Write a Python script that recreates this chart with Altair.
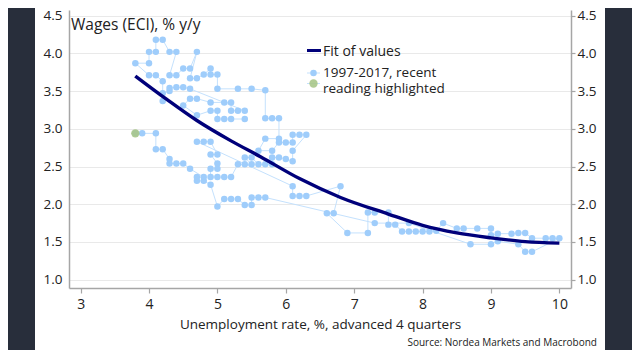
import altair as alt
import pandas as pd

# ---- data ----
unemp = [5.4, 5.2, 5.1, 5.0, 5.0, 4.9, 4.7, 4.5, 4.6, 4.7, 4.9, 5.1, 5.2, 5.2, 5.3, 5.4,
         4.6, 4.5, 4.4, 4.3, 4.3, 4.2, 4.2, 4.2, 4.1, 4.0, 3.8, 4.0, 4.0, 4.1, 4.1, 4.2,
         4.3, 4.4, 4.3, 4.4, 4.5, 4.6, 4.7, 4.6, 4.7, 4.8, 4.9, 4.9, 5.0, 5.0, 5.3, 5.5,
         5.7, 5.7, 5.8, 5.9, 5.9, 5.7, 5.6, 5.8, 5.9, 6.0, 6.1, 6.1, 6.2, 6.3, 6.1, 6.1,
         6.0, 5.9, 5.8, 5.8, 5.7, 5.6, 5.5, 5.4, 5.5, 5.4, 5.3, 5.2, 5.1, 5.0, 4.9, 4.9,
         5.0, 5.0, 4.9, 5.0, 4.9, 4.8, 4.7,
         6.1, 6.1, 6.2, 6.3, 6.8, 6.7, 6.6, 6.9, 7.2, 7.2, 7.3, 7.5, 7.5, 7.6, 7.7, 7.8,
         7.9, 8.0, 8.1, 8.2, 8.3, 8.5, 8.6, 8.8, 9.0, 9.0, 9.1, 9.3, 9.4, 9.5, 9.6, 9.8,
         9.9, 10.0, 9.6, 9.5, 9.4, 9.1, 9.0, 8.7, 7.8, 7.3,
         5.7, 5.6, 5.5, 5.5, 5.4, 5.3, 5.2, 5.1, 5.0, 4.9, 4.8, 4.7, 4.7, 4.8, 4.6, 4.5,
         4.4, 4.3, 4.3, 4.2, 4.1, 4.1, 3.9, 3.8]
wages = [3.13, 3.13, 3.13, 3.13, 3.24, 3.24, 3.18, 3.31, 3.40, 3.40, 3.35, 3.35, 3.35, 3.24, 3.24, 3.24,
         3.53, 3.55, 3.55, 3.54, 3.50, 3.47, 3.37, 3.63, 3.71, 3.71, 3.87, 3.87, 4.02, 4.02, 4.18, 4.18,
         4.02, 4.02, 3.71, 3.71, 3.80, 3.80, 4.02, 3.67, 3.67, 3.72, 3.80, 3.72, 3.72, 3.53, 3.53, 3.53,
         3.51, 3.14, 3.14, 3.14, 2.87, 2.87, 2.71, 2.71, 2.82, 2.82, 2.82, 2.92, 2.92, 2.92, 2.71, 2.57,
         2.60, 2.62, 2.62, 2.53, 2.53, 2.53, 2.62, 2.62, 2.53, 2.53, 2.53, 2.36, 2.36, 2.36, 2.36, 2.47,
         2.47, 2.54, 2.66, 2.66, 2.83, 2.83, 2.83,
         2.24, 2.11, 2.11, 2.11, 2.24, 1.88, 1.88, 1.62, 1.62, 1.89, 1.89, 1.89, 1.73, 1.73, 1.64, 1.64,
         1.64, 1.64, 1.64, 1.65, 1.75, 1.68, 1.68, 1.68, 1.68, 1.59, 1.61, 1.61, 1.62, 1.62, 1.55, 1.55,
         1.55, 1.55, 1.37, 1.37, 1.47, 1.51, 1.47, 1.47, 1.75, 1.75,
         2.09, 2.09, 2.09, 1.99, 1.99, 2.07, 2.07, 2.07, 1.97, 2.26, 2.31, 2.31, 2.36, 2.36, 2.47, 2.54,
         2.54, 2.54, 2.60, 2.73, 2.73, 2.94, 2.94, 2.94]

fit_x = [3.8, 4.26, 4.7, 5.2, 5.63, 6.2, 6.8, 7.5, 8.0, 8.5, 9.0, 9.5, 10.0]
fit_y = [3.70, 3.39, 3.11, 2.84, 2.63, 2.34, 2.09, 1.87, 1.72, 1.62, 1.555, 1.505, 1.485]

y_ticks = [1.0, 1.5, 2.0, 2.5, 3.0, 3.5, 4.0, 4.5]
x_ticks = [3, 4, 5, 6, 7, 8, 9, 10]

title_text = "Wages (ECI), % y/y"
x_title = "Unemployment rate, %, advanced 4 quarters"
legend_fit = "Fit of values"
legend_pts = ["1997-2017, recent", "reading highlighted"]
source_text = "Source: Nordea Markets and Macrobond"

# ---- styling ----
FONT = "Open Sans"
TXT = "#222222"
PT = "#9fcdfb"
PT_LINE = "#c4e1fd"
NAVY = "#00007a"
GREEN = "#a9c68a"
DARK = "#282e3b"

df = pd.DataFrame({"u": unemp, "w": wages, "order": list(range(len(unemp)))})
recent = df.tail(1)
fit = pd.DataFrame({"u": fit_x, "w": fit_y})
one = pd.DataFrame({"a": [0]})

xs = alt.Scale(domain=[2.83, 10.17], nice=False, zero=False)
ys = alt.Scale(domain=[0.89, 4.575], nice=False, zero=False)

X = alt.X("u:Q", scale=xs,
          axis=alt.Axis(values=x_ticks, title=x_title, grid=False, tickSize=5,
                        labelPadding=4, titlePadding=6, format="d", titleFontSize=13.5))
Y_left = alt.Y("w:Q", scale=ys,
               axis=alt.Axis(values=y_ticks, title=None, format=".1f", grid=True,
                             ticks=False, labelPadding=7, orient="left", labelFontSize=13.5))
Y_right = alt.Y("w:Q", scale=ys,
                axis=alt.Axis(values=y_ticks, title=None, format=".1f", grid=False,
                              tickSize=4, labelPadding=2, orient="right", labelFontSize=13.5))
Y_none = alt.Y("w:Q", scale=ys, axis=None)

side_l = alt.Chart(one).mark_rect(color=DARK).encode(
    x=alt.value(-70), x2=alt.value(-34), y=alt.value(-12), y2=alt.value(360))
side_r = alt.Chart(one).mark_rect(color=DARK).encode(
    x=alt.value(536), x2=alt.value(580), y=alt.value(-12), y2=alt.value(360))

path = alt.Chart(df).mark_line(color=PT_LINE, strokeWidth=1).encode(
    x=X, y=Y_left, order="order:Q")
pts = alt.Chart(df).mark_circle(color=PT, opacity=1, size=42).encode(
    x=alt.X("u:Q", scale=xs), y=Y_none)
fitline = alt.Chart(fit).mark_line(color=NAVY, strokeWidth=3.4, interpolate="monotone").encode(
    x=alt.X("u:Q", scale=xs), y=Y_right)
hl = alt.Chart(recent).mark_circle(color=GREEN, opacity=0.9, size=70).encode(
    x=alt.X("u:Q", scale=xs), y=Y_none)

def txt(s, x, y, size=14, align="left", color=TXT):
    return alt.Chart(one).mark_text(text=s, align=align, baseline="alphabetic",
                                    fontSize=size, font=FONT, color=color).encode(
        x=alt.value(x), y=alt.value(y))

title = txt(title_text, 2, 20, size=15.5)
leg_fit_line = alt.Chart(one).mark_rule(color=NAVY, strokeWidth=3).encode(
    x=alt.value(238), x2=alt.value(252), y=alt.value(40.5))
leg_pt_line1 = alt.Chart(one).mark_rule(color=PT_LINE, strokeWidth=1).encode(
    x=alt.value(238), x2=alt.value(251), y=alt.value(63))
leg_pt1 = alt.Chart(one).mark_circle(color=PT, opacity=1, size=42).encode(
    x=alt.value(244.5), y=alt.value(63))
leg_pt_line2 = alt.Chart(one).mark_rule(color=PT_LINE, strokeWidth=1).encode(
    x=alt.value(238), x2=alt.value(251), y=alt.value(73.5))
leg_pt2 = alt.Chart(one).mark_circle(color=GREEN, opacity=0.9, size=70).encode(
    x=alt.value(244.5), y=alt.value(73.5))
leg_t1 = txt(legend_fit, 254, 45.5)
leg_t2 = txt(legend_pts[0], 254, 66.5, size=13.5)
leg_t3 = txt(legend_pts[1], 254, 83, size=13.5)
src = txt(source_text, 528, 336, size=10, align="right")

chart = alt.layer(
    side_l, side_r, path, pts, fitline, hl, title,
    leg_fit_line, leg_pt_line1, leg_pt1, leg_pt_line2, leg_pt2,
    leg_t1, leg_t2, leg_t3, src
).resolve_axis(y="independent").properties(
    width=502, height=278,
    autosize=alt.AutoSizeParams(type="none"),
    padding={"left": 61, "top": 2, "right": 61, "bottom": 62},
    background="white",
).configure_view(stroke=None).configure_axis(
    labelFont=FONT, titleFont=FONT, labelFontSize=14, titleFontSize=14,
    labelColor=TXT, titleColor=TXT, titleFontWeight="normal",
    domainColor="#a6a6a6", domainWidth=1.5, tickColor="#a6a6a6", tickWidth=1.2,
    gridColor="#e9e9e9", gridWidth=1,
)

chart.save("out.html", embed_options={"renderer": "svg", "actions": False})
